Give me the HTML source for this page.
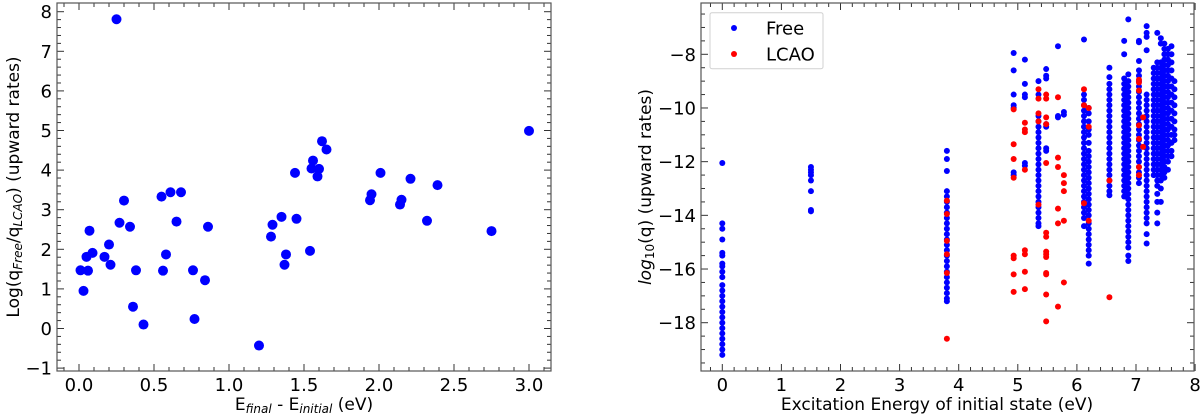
<!DOCTYPE html>
<html><head><meta charset="utf-8"><style>
body{margin:0;background:#fff}
svg{display:block;font-family:"DejaVu Sans","Liberation Sans",sans-serif}
</style></head><body>
<svg id="c" width="1200" height="419" viewBox="0 0 1200 419">
<g id="left"></g>
<g id="right"></g>
</svg>
<script>
// ---- left panel data ----
const ratioX = [0.01,0.03,0.05,0.06,0.07,0.09,0.17,0.20,0.21,0.25,0.27,0.30,0.34,0.36,0.38,0.43,0.55,0.56,0.58,0.61,0.65,0.68,0.76,0.77,0.84,0.86,1.20,1.28,1.29,1.35,1.37,1.38,1.44,1.45,1.54,1.55,1.56,1.59,1.60,1.62,1.65,1.94,1.95,2.01,2.14,2.15,2.21,2.32,2.39,2.75,3.00];
const ratioY = [1.47,0.95,1.81,1.46,2.47,1.91,1.81,2.12,1.61,7.81,2.67,3.23,2.57,0.55,1.47,0.10,3.33,1.46,1.87,3.44,2.70,3.44,1.47,0.24,1.22,2.57,-0.43,2.32,2.62,2.82,1.61,1.87,3.93,2.77,1.96,4.04,4.24,3.84,4.03,4.73,4.52,3.24,3.39,3.93,3.13,3.25,3.78,2.72,3.62,2.46,4.99];
const leftXTicks = ["0.0","0.5","1.0","1.5","2.0","2.5","3.0"];
const leftYTicks = ["-1","0","1","2","3","4","5","6","7","8"];
// ---- right panel data (columns) ----
const freeColX = [0,1.5,3.8,4.93,5.12,5.35,5.48,5.68,5.78,6.12,6.2,6.55,6.8,6.87,7.05,7.18,7.3,7.36,7.42,7.48,7.54,7.6,7.65];
const freeColY = [
[-12.05,-14.3,-14.5,-14.9,-15.4,-15.5,-15.8,-15.9,-16.1,-16.3,-16.6,-16.8,-17.0,-17.2,-17.4,-17.6,-17.8,-18.0,-18.2,-18.4,-18.6,-18.8,-19.0,-19.2],
[-12.2,-12.3,-12.4,-12.5,-12.7,-13.1,-13.8,-13.85],
[-11.6,-11.9,-12.35,-13.1,-13.3,-13.5,-13.7,-13.9,-14.1,-14.3,-14.5,-14.7,-14.9,-15.1,-15.3,-15.5,-15.7,-15.9,-16.1,-16.3,-16.5,-16.7,-16.9,-17.1,-17.2],
[-7.95,-8.6,-9.5,-9.9,-10.0,-12.4,-12.5],
[-8.2,-9.1,-9.5,-9.6,-12.05,-12.15],
[-9.0,-9.5,-10.3,-10.5,-10.7,-10.9,-11.1,-11.3,-11.5,-11.7,-11.9,-12.1,-12.3,-12.5,-12.7,-12.9,-13.1,-13.3,-13.5,-13.7,-13.9,-14.1,-14.3,-14.4],
[-8.55,-8.8,-8.9,-10.6,-10.7,-11.5,-11.6],
[-7.7,-10.3,-10.35],
[-10.15,-10.25],
[-7.45,-9.5,-9.7,-9.9,-10.1,-10.3,-10.5,-10.7,-10.9,-11.1,-11.3,-11.5,-11.7,-11.9,-12.1,-12.3,-12.5,-12.7,-12.9,-13.1,-13.3,-13.5,-13.7,-13.9,-14.1,-14.4],
[-10.0,-10.2,-10.5,-10.8,-11.0,-11.3,-11.6,-11.8,-12.0,-12.2,-12.4,-12.6,-12.8,-13.0,-13.2,-13.4,-13.6,-13.8,-14.0,-14.3,-14.5,-14.7,-14.9,-15.1,-15.3,-15.5,-15.8],
[-8.5,-8.85,-9.1,-9.3,-9.5,-9.7,-9.9,-10.1,-10.3,-10.5,-10.7,-10.9,-11.1,-11.3,-11.5,-11.7,-11.9,-12.1,-12.3,-12.5,-12.7,-12.9,-13.1,-13.25],
[-7.5,-8.0,-8.9,-9.1,-9.3,-9.5,-9.7,-9.9,-10.1,-10.3,-10.5,-10.7,-10.9,-11.1,-11.3,-11.5,-11.7,-11.9,-12.1,-12.3,-12.5,-12.7,-12.9,-13.1,-13.3],
[-6.7,-8.75,-9.0,-9.2,-9.4,-9.6,-9.8,-10.0,-10.2,-10.4,-10.6,-10.8,-11.0,-11.2,-11.4,-11.6,-11.8,-12.0,-12.2,-12.4,-12.6,-12.8,-13.0,-13.2,-13.4,-13.6,-13.8,-14.0,-14.2,-14.4,-14.6,-14.8,-15.0,-15.2,-15.5,-15.7],
[-7.5,-7.55,-8.25,-8.6,-8.8,-9.0,-9.2,-9.4,-9.6,-9.8,-10.0,-10.2,-10.4,-10.6,-10.8,-11.0,-11.2,-11.4,-11.6,-11.8,-12.0,-12.2,-12.4,-12.6,-12.8],
[-6.95,-7.2,-7.35,-7.85,-9.5,-9.7,-9.9,-10.1,-10.3,-10.5,-10.7,-10.9,-11.1,-11.3,-11.5,-11.7,-11.9,-12.1,-12.3,-12.5,-12.7,-12.9,-13.1,-13.3,-13.5,-13.7,-13.9,-14.1,-14.3,-14.7,-15.05],
[-8.5,-8.7,-8.9,-9.1,-9.3,-9.5,-9.7,-9.9,-10.1,-10.3,-10.5,-10.7,-10.9,-11.1,-11.3,-11.5,-11.7,-11.9,-12.1,-12.3,-12.5],
[-7.2,-8.3,-8.5,-8.7,-8.9,-9.1,-9.3,-9.5,-9.7,-9.9,-10.1,-10.3,-10.5,-10.7,-10.9,-11.1,-11.3,-11.5,-11.7,-11.9,-12.1,-12.3,-12.5,-12.7,-12.9,-13.2,-13.5,-13.9,-14.3],
[-7.4,-7.6,-8.3,-8.5,-8.7,-8.9,-9.1,-9.3,-9.5,-9.7,-9.9,-10.1,-10.3,-10.5,-10.7,-10.9,-11.1,-11.3,-11.5,-11.7,-11.9,-12.1,-12.3,-12.5,-12.7,-13.0,-13.5],
[-7.6,-7.8,-8.0,-8.2,-8.4,-8.6,-8.8,-9.0,-9.2,-9.4,-9.6,-9.8,-10.0,-10.2,-10.4,-10.6,-10.8,-11.0,-11.2,-11.4,-11.6,-11.8,-12.0,-12.2,-12.4,-12.6],
[-7.8,-8.0,-8.2,-8.4,-8.6,-8.8,-9.0,-9.2,-9.4,-9.6,-9.8,-10.0,-10.2,-10.4,-10.6,-10.8,-11.0,-11.2,-11.4,-11.6,-11.8,-12.0,-12.3],
[-7.7,-8.0,-8.3,-8.6,-8.9,-9.2,-9.5,-9.8,-10.1,-10.4,-10.7,-11.0,-11.3,-11.6,-11.8],
[-9.0,-9.3,-9.6,-9.9,-10.2,-10.5,-10.8,-11.0,-11.2]
];
const lcaoColX = [3.8,4.93,5.12,5.35,5.48,5.68,5.78,6.12,6.2,6.55,7.05,7.12];
const lcaoColY = [
[-13.45,-13.95,-14.95,-15.45,-16.15,-18.6],
[-10.05,-11.35,-11.9,-12.6,-15.5,-15.6,-16.2,-16.85],
[-10.55,-10.8,-10.9,-12.3,-15.3,-15.45,-16.1,-16.75],
[-9.3,-9.65,-10.2,-10.5,-13.6],
[-9.5,-9.65,-10.35,-10.6,-12.05,-14.65,-14.8,-15.35,-15.45,-15.55,-16.15,-16.2,-16.95,-17.95],
[-9.6,-11.85,-12.2,-13.75,-14.3,-17.4],
[-12.5,-12.8,-13.1,-14.2,-16.5],
[-9.3,-9.9,-13.55],
[-10.0,-10.7,-14.2],
[-12.7,-17.05],
[-8.95,-9.05,-9.35,-10.65,-11.15,-12.2,-12.5],
[-10.35,-11.45]
];
const rightXTicks = ["0","1","2","3","4","5","6","7","8"];
const rightYTicks = ["-8","-10","-12","-14","-16","-18"];

const NS="http://www.w3.org/2000/svg";
function mk(parent,tag,attrs){const e=document.createElementNS(NS,tag);for(const k in attrs)e.setAttribute(k,attrs[k]);parent.appendChild(e);return e;}
function minus(s){return s.replace("-","\u2212");}

function axes(g,L,R,T,B,sx,sy,xMinor,yMinor,xTicks,yTicks){
  const ax=mk(g,"g",{});
  
  
  for(const v of xMinor){const x=sx(v);const maj=xTicks.some(t=>Math.abs(parseFloat(t)-v)<1e-6);const l=maj?7:4;
    mk(ax,"line",{x1:x,x2:x,y1:B,y2:B-l,stroke:"#333","stroke-width":1});
    mk(ax,"line",{x1:x,x2:x,y1:T,y2:T+l,stroke:"#333","stroke-width":1});}
  for(const v of yMinor){const y=sy(v);const maj=yTicks.some(t=>Math.abs(parseFloat(t)-v)<1e-6);const l=maj?7:4;
    mk(ax,"line",{x1:L,x2:L+l,y1:y,y2:y,stroke:"#333","stroke-width":1});
    mk(ax,"line",{x1:R,x2:R-l,y1:y,y2:y,stroke:"#333","stroke-width":1});}
  for(const t of xTicks){const el=mk(ax,"text",{x:sx(parseFloat(t)),y:B+20,"text-anchor":"middle","font-size":18,fill:"#000"});el.textContent=t;
    
    }
  for(const t of yTicks){const el=mk(ax,"text",{x:L-5,y:sy(parseFloat(t))+6.5,"text-anchor":"end","font-size":18,fill:"#000"});el.textContent=minus(t);
    
    }
  const fr=mk(ax,"rect",{x:L,y:T,width:R-L,height:B-T,fill:"none",stroke:"#555","stroke-width":1.2});
  
  
}
function range(a,b,s){const r=[];for(let v=a;v<=b+1e-9;v+=s)r.push(Math.round(v*1000)/1000);return r;}

// left
(function(){
  const g=document.getElementById("left");
  const L=57,R=551,T=3,B=371;
  const sx=v=>79+v*150, sy=v=>11.7+(8-v)*39.6;
  for(let i=0;i<ratioX.length;i++){
    const c=mk(g,"circle",{cx:sx(ratioX[i]),cy:sy(ratioY[i]),r:5,fill:"#0000ff"});
    
    
  }
  axes(g,L,R,T,B,sx,sy,range(-0.1,3.1,0.1),range(-1,8,0.2),leftXTicks,leftYTicks);
  const yl=mk(g,"text",{x:0,y:0,transform:"translate(19,187) rotate(-90)","text-anchor":"middle","font-size":17,fill:"#000"});
  yl.innerHTML='Log(q<tspan font-size="12" dy="3" font-style="italic">Free</tspan><tspan dy="-3">/q</tspan><tspan font-size="12" dy="3" font-style="italic">LCAO</tspan><tspan dy="-3">) (upward rates)</tspan>';
  
  
  const xl=mk(g,"text",{x:304,y:410,"text-anchor":"middle","font-size":17,fill:"#000"});
  xl.innerHTML='E<tspan font-size="12" dy="3" font-style="italic">final</tspan><tspan dy="-3"> - E</tspan><tspan font-size="12" dy="3" font-style="italic">initial</tspan><tspan dy="-3"> (eV)</tspan>';
  
  
})();

// right
(function(){
  const g=document.getElementById("right");
  const L=701,R=1194,T=3,B=371;
  const sx=v=>722.3+v*59.1, sy=v=>54.3+(-8-v)*26.84;
  for(let i=0;i<freeColX.length;i++)for(const y of freeColY[i]){
    const c=mk(g,"circle",{cx:sx(freeColX[i]),cy:sy(y),r:3,fill:"#0000ff"});
    
    
  }
  for(let i=0;i<lcaoColX.length;i++)for(const y of lcaoColY[i]){
    const c=mk(g,"circle",{cx:sx(lcaoColX[i]),cy:sy(y),r:3,fill:"#ff0000"});
    
    
  }
  axes(g,L,R,T,B,sx,sy,range(-0.2,8,0.2),range(-19.5,-6.5,0.5),rightXTicks,rightYTicks);
  const lg=mk(g,"g",{});
  
  
  mk(lg,"rect",{x:710,y:12.7,width:113,height:56,rx:2,fill:"#fff",stroke:"#ccc","stroke-width":1,opacity:0.9});
  mk(lg,"circle",{cx:734,cy:28,r:3,fill:"#0000ff"});
  mk(lg,"circle",{cx:734,cy:54,r:3,fill:"#ff0000"});
  const t1=mk(lg,"text",{x:766,y:34.5,"font-size":18,fill:"#000"});t1.textContent="Free";
  
  
  const t2=mk(lg,"text",{x:766,y:60.5,"font-size":18,fill:"#000"});t2.textContent="LCAO";
  
  
  const yl=mk(g,"text",{x:0,y:0,transform:"translate(651,187) rotate(-90)","text-anchor":"middle","font-size":17,fill:"#000"});
  yl.innerHTML='<tspan font-style="italic">log</tspan><tspan font-size="12" dy="3">10</tspan><tspan dy="-3">(q) (upward rates)</tspan>';
  
  
  const xl=mk(g,"text",{x:937,y:410,"text-anchor":"middle","font-size":17,fill:"#000"});
  xl.textContent="Excitation Energy of initial state (eV)";
  
  
})();
</script>
</body></html>
